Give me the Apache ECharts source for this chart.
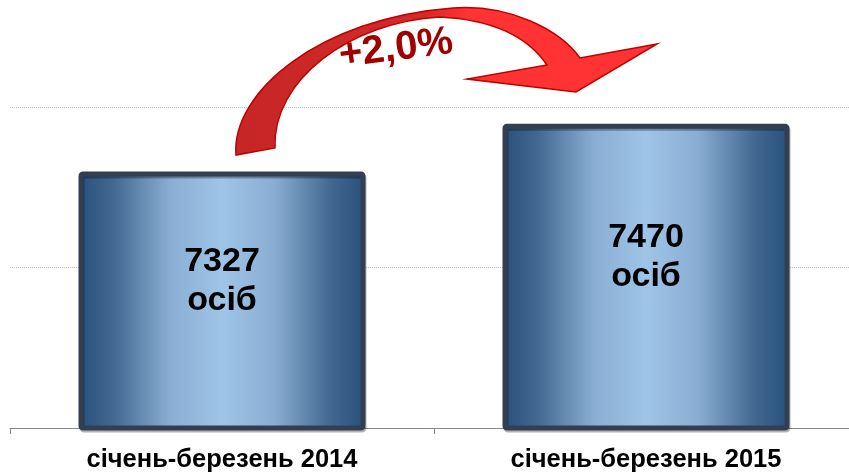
<!DOCTYPE html>
<html>
<head>
<meta charset="utf-8">
<script src="https://cdn.jsdelivr.net/npm/echarts@6/dist/echarts.min.js"></script>
<style>
    html, body { margin: 0; padding: 0; background: #fff; }
    #chart { width: 849px; height: 474px; }
</style>
</head>
<body>
<div id="chart"></div>
<script>
    // дані
    var categories = ['січень-березень 2014', 'січень-березень 2015'];
    var values = [7327, 7470];
    var unit = 'осіб';
    var changeText = '+2,0%';

    // вигнута стрілка над стовпцями (декор)
    var RedArrow = echarts.graphic.extendShape({
        shape: {},
        buildPath: function (ctx) {
            ctx.moveTo(236, 155);
            ctx.bezierCurveTo(231, 92, 320, 18, 453, 8);
            ctx.bezierCurveTo(510, 4, 560, 30, 580, 58);
            ctx.lineTo(657, 44);
            ctx.lineTo(576, 92);
            ctx.lineTo(467, 79);
            ctx.lineTo(547, 65);
            ctx.bezierCurveTo(530, 40, 500, 20, 440, 17);
            ctx.bezierCurveTo(350, 22, 272, 80, 275, 148);
            ctx.closePath();
        }
    });
    echarts.graphic.registerShape('redArrow', RedArrow);

    var chart = echarts.init(document.getElementById('chart'));

    var barFill = {
        type: 'linear', x: 0, y: 0, x2: 1, y2: 0,
        colorStops: [
            { offset: 0, color: '#27507a' },
            { offset: 0.12, color: '#416891' },
            { offset: 0.32, color: '#8aaed3' },
            { offset: 0.5, color: '#9ec4e7' },
            { offset: 0.68, color: '#8aaed3' },
            { offset: 0.88, color: '#416891' },
            { offset: 1, color: '#27507a' }
        ]
    };

    var arrowFill = new echarts.graphic.LinearGradient(0, 0, 1, 0, [
        { offset: 0, color: '#c62626' },
        { offset: 0.45, color: '#d42a2a' },
        { offset: 0.55, color: '#ff3333' },
        { offset: 1, color: '#ff3333' }
    ]);

    var option = {
        animation: false,
        grid: { left: 10, width: 848, top: 107, bottom: 46, outerBoundsMode: 'none' },
        xAxis: {
            type: 'category',
            data: categories,
            axisLine: { lineStyle: { color: '#868686', width: 1 } },
            axisTick: { show: true, length: 6, lineStyle: { color: '#868686' } },
            axisLabel: {
                margin: 19,
                color: '#000',
                fontFamily: 'Liberation Sans, Arial, sans-serif',
                fontWeight: 'bold',
                fontSize: 25.5
            }
        },
        yAxis: {
            type: 'value',
            min: 6560,
            max: 7520,
            interval: 480,
            axisLine: { show: false },
            axisTick: { show: false },
            axisLabel: { show: false },
            splitLine: { show: true, lineStyle: { color: '#c0c0c0', type: 'dotted', width: 1 } }
        },
        series: [{
            type: 'bar',
            data: values,
            barWidth: 287,
            itemStyle: {
                color: barFill,
                borderColor: '#333f51',
                borderWidth: 5,
                borderRadius: 2,
                shadowColor: 'rgba(0,0,0,0.3)',
                shadowBlur: 0,
                shadowOffsetX: 1,
                shadowOffsetY: 2
            },
            label: {
                show: true,
                position: 'inside',
                offset: [0, -20],
                formatter: function (p) { return p.value + '\n' + unit; },
                color: '#000',
                fontFamily: 'Liberation Sans, Arial, sans-serif',
                fontWeight: 'bold',
                fontSize: 34,
                lineHeight: 39
            }
        }],
        graphic: [
            {
                type: 'redArrow',
                z: 10,
                shape: {},
                style: { fill: arrowFill, stroke: '#c00000', lineWidth: 1.5 }
            },
            {
                type: 'text',
                z: 11,
                x: 396,
                y: 49,
                rotation: 0.13,
                style: {
                    text: changeText,
                    fill: '#a00000',
                    font: 'bold 40px "Liberation Sans", Arial, sans-serif',
                    align: 'center',
                    verticalAlign: 'middle'
                }
            }
        ]
    };

    chart.setOption(option);
</script>
</body>
</html>
